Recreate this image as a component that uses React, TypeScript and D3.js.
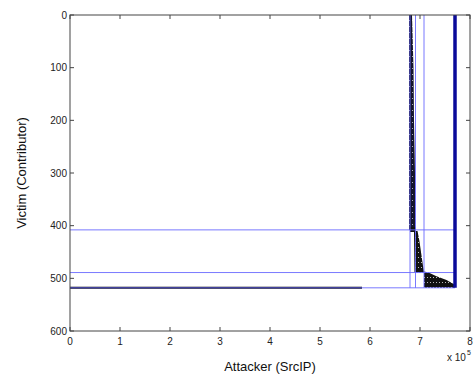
import React from "react";
import * as d3 from "d3";

const xTicks = [0, 1, 2, 3, 4, 5, 6, 7, 8];
const yTicks = [0, 100, 200, 300, 400, 500, 600];
const hBlue = [408, 489, 518];
const vBlue = [6.8e5, 6.91e5, 7.08e5];
const heavyX = 7.7e5;
const blockBottom = 518;
const band1: [number, number][] = [
  [6.78e5, 0], [6.78e5, 408], [6.91e5, 408], [6.9e5, 300], [6.88e5, 200], [6.87e5, 100], [6.84e5, 0],
];
const blob: [number, number][] = [
  [6.8e5, 403], [6.91e5, 403], [6.91e5, 412], [6.8e5, 412],
];
const region2: [number, number][] = [
  [6.88e5, 410], [6.95e5, 410], [6.99e5, 430], [7.02e5, 450], [7.05e5, 470], [7.08e5, 489], [6.89e5, 489],
];
const region3: [number, number][] = [
  [7.08e5, 487], [7.17e5, 489], [7.33e5, 496], [7.53e5, 503], [7.7e5, 512], [7.7e5, 518], [7.08e5, 518],
];
const blackLine: [number, number][] = [[0, 518], [5.84e5, 518]];

export default function App() {
  const W = 475, H = 379;
  const x = d3.scaleLinear().domain([0, 8e5]).range([70, 470]);
  const y = d3.scaleLinear().domain([0, 600]).range([15, 331]);
  const line = d3.line<[number, number]>().x(d => x(d[0])).y(d => y(d[1]));
  const poly = (pts: [number, number][]) => line(pts) + "Z";
  const font = "'Liberation Sans', Arial, sans-serif";
  const [x0, x1] = x.range();
  const [y0, y1] = y.range();
  return (
    <div style={{ position: "fixed", left: 0, top: 0 }}>
      <svg width={W} height={H} style={{ display: "block", background: "#fff" }}>
        <defs>
          <pattern id="speck" width={3} height={5} patternUnits="userSpaceOnUse">
            <rect width={3} height={5} fill="#111" />
            <rect x={1} y={2} width={1} height={1} fill="#bbb" />
          </pattern>
          <pattern id="speckNavy" width={3} height={6} patternUnits="userSpaceOnUse">
            <rect width={3} height={6} fill="#15152e" />
            <rect x={1} y={2} width={1} height={1} fill="#aab" />
          </pattern>
        </defs>
        {/* data shapes */}
        <path d={poly(band1)} fill="url(#speckNavy)" />
        <path d={poly(blob)} fill="#111" />
        <path d={poly(region2)} fill="url(#speck)" />
        <path d={poly(region3)} fill="url(#speck)" />
        <path d={line(blackLine)!} stroke="#000" strokeWidth={2} fill="none" />
        {/* blue partition lines */}
        {hBlue.map(v => (
          <line key={"h" + v} x1={x(0)} x2={x(heavyX)} y1={y(v)} y2={y(v)} stroke="#6a6aff" strokeWidth={0.9} />
        ))}
        {vBlue.map(v => (
          <line key={"v" + v} x1={x(v)} x2={x(v)} y1={y(0)} y2={y(blockBottom)} stroke="#6a6aff" strokeWidth={0.9} />
        ))}
        <line x1={x(heavyX)} x2={x(heavyX)} y1={y(0)} y2={y(blockBottom)} stroke="#0a0a9a" strokeWidth={3.5} />
        {/* axes box */}
        <rect x={x0} y={y0} width={x1 - x0} height={y1 - y0} fill="none" stroke="#444" strokeWidth={1} />
        {xTicks.map(t => (
          <g key={"xt" + t}>
            <line x1={x(t * 1e5)} x2={x(t * 1e5)} y1={y1} y2={y1 - 4} stroke="#444" />
            <line x1={x(t * 1e5)} x2={x(t * 1e5)} y1={y0} y2={y0 + 4} stroke="#444" />
            <text x={x(t * 1e5)} y={345} fontSize={10} fontFamily={font} textAnchor="middle" fill="#222">{t}</text>
          </g>
        ))}
        {yTicks.map(t => (
          <g key={"yt" + t}>
            <line x1={x0} x2={x0 + 4} y1={y(t)} y2={y(t)} stroke="#444" />
            <line x1={x1} x2={x1 - 4} y1={y(t)} y2={y(t)} stroke="#444" />
            <text x={67} y={y(t)} dy="0.35em" fontSize={10} fontFamily={font} textAnchor="end" fill="#222">{t}</text>
          </g>
        ))}
        <text x={447} y={361} fontSize={10} fontFamily={font} fill="#222">x 10</text>
        <text x={467} y={355} fontSize={7} fontFamily={font} fill="#222">5</text>
        <text x={(x0 + x1) / 2} y={371} fontSize={13} fontFamily={font} textAnchor="middle" fill="#111">Attacker (SrcIP)</text>
        <text transform={`translate(26,${(y0 + y1) / 2}) rotate(-90)`} fontSize={13} fontFamily={font} textAnchor="middle" fill="#111">Victim (Contributor)</text>
      </svg>
    </div>
  );
}
